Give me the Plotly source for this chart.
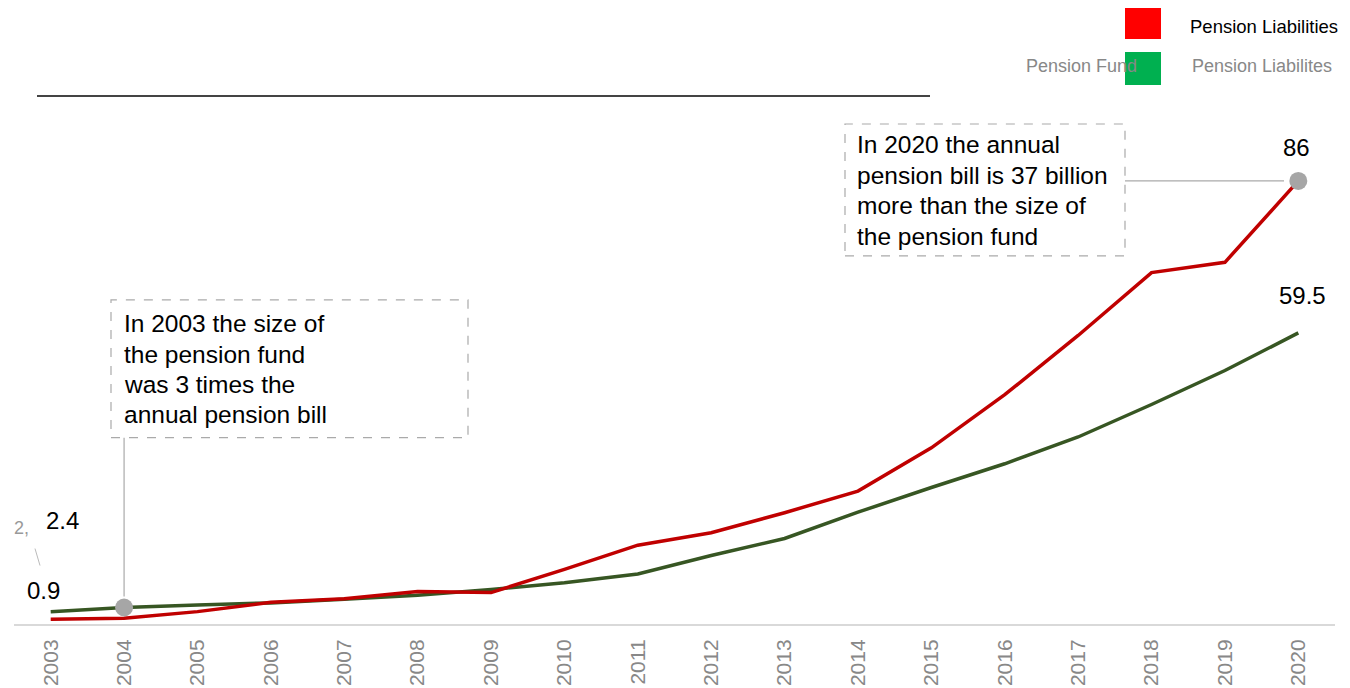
import plotly.graph_objects as go

# ---- data ----
years = list(range(2003, 2021))
year_labels = [str(y) for y in years]
pension_liabilities = [0.9, 1.1, 2.4, 4.2, 4.9, 6.3, 6.1, 10.6, 15.3, 17.7,
                       21.6, 25.8, 34.2, 44.5, 56.0, 68.2, 70.2, 86.0]
pension_fund = [2.4, 3.2, 3.7, 4.1, 4.8, 5.6, 6.7, 8.0, 9.7, 13.3,
                16.6, 21.7, 26.5, 31.1, 36.3, 42.6, 49.2, 56.5]
value_labels = {"liab_end": "86", "fund_end": "59.5", "fund_start": "2.4", "liab_start": "0.9"}
note_2003 = ["In 2003 the size of", "the pension fund", "was 3 times the", "annual pension bill"]
note_2020 = ["In 2020 the annual", "pension bill is 37 billion", "more than the size of", "the pension fund"]

# ---- layout geometry (page pixels; page body has 8px margin) ----
OFF = 8
W, H = 1350 - OFF, 688 - OFF
L, R, T, B = 14 - OFF, 15, 100 - OFF, 63.5
PW = W - L - R
PH = H - T - B


def px(x):
    return (x - OFF - L) / PW


def py(y):
    return (H - B - (y - OFF)) / PH


RED = "#c00000"
GREEN = "#375623"
GRAY_MK = "#a6a6a6"
FONT = "Liberation Sans, Arial, sans-serif"

fig = go.Figure()
fig.add_trace(go.Scatter(x=years, y=pension_fund, mode="lines",
                         line=dict(color=GREEN, width=3.5), name="Pension Fund",
                         showlegend=False, hoverinfo="skip"))
fig.add_trace(go.Scatter(x=years, y=pension_liabilities, mode="lines",
                         line=dict(color=RED, width=3.5), name="Pension Liabilities",
                         showlegend=False, hoverinfo="skip"))
fig.add_trace(go.Scatter(x=[years[1], years[-1]], y=[pension_fund[1], pension_liabilities[-1]],
                         mode="markers", marker=dict(color=GRAY_MK, size=18),
                         showlegend=False, hoverinfo="skip"))

shapes = []
# top rule
shapes.append(dict(type="line", xref="paper", yref="paper", x0=px(37), x1=px(930),
                   y0=py(96), y1=py(96), line=dict(color="#444444", width=2)))
# legend squares
shapes.append(dict(type="rect", xref="paper", yref="paper", x0=px(1125), x1=px(1161),
                   y0=py(39), y1=py(6), fillcolor="#ff0000", line=dict(width=0)))
shapes.append(dict(type="rect", xref="paper", yref="paper", x0=px(1125), x1=px(1161),
                   y0=py(85), y1=py(52), fillcolor="#00b050", line=dict(width=0)))
# annotation boxes
shapes.append(dict(type="rect", xref="paper", yref="paper", x0=px(111), x1=px(468),
                   y0=py(438), y1=py(300), line=dict(color="#aaaaaa", width=1.2, dash="dash")))
shapes.append(dict(type="rect", xref="paper", yref="paper", x0=px(845), x1=px(1125),
                   y0=py(256), y1=py(124), line=dict(color="#aaaaaa", width=1.2, dash="dash")))
# connectors
shapes.append(dict(type="line", xref="x", yref="paper", x0=years[1], x1=years[1],
                   y0=py(438), y1=py(597), line=dict(color="#aaaaaa", width=1.2)))
shapes.append(dict(type="line", xref="paper", yref="y", x0=px(1125), x1=px(1284),
                   y0=pension_liabilities[-1], y1=pension_liabilities[-1],
                   line=dict(color="#aaaaaa", width=1.2)))
# small leader line for clipped label
shapes.append(dict(type="line", xref="paper", yref="paper", x0=px(35), x1=px(40),
                   y0=py(549), y1=py(566), line=dict(color="#bbbbbb", width=1)))

ann = []
for i, line in enumerate(note_2003):
    ann.append(dict(text=line, xref="paper", yref="paper", x=px(122), y=py(324 + 30.4 * i),
                    xanchor="left", yanchor="middle", align="left", showarrow=False,
                    font=dict(family=FONT, size=24.5, color="#000000")))
for i, line in enumerate(note_2020):
    ann.append(dict(text=line, xref="paper", yref="paper", x=px(855), y=py(145 + 30.4 * i),
                    xanchor="left", yanchor="middle", align="left", showarrow=False,
                    font=dict(family=FONT, size=24.5, color="#000000")))
# value labels
for key, cx, cy in [("liab_end", 1296, 148), ("fund_end", 1302, 296),
                    ("fund_start", 62, 521), ("liab_start", 43, 591)]:
    ann.append(dict(text=value_labels[key], xref="paper", yref="paper", x=px(cx), y=py(cy),
                    xanchor="center", yanchor="middle", showarrow=False,
                    font=dict(family=FONT, size=24, color="#000000")))
ann.append(dict(text="2,", xref="paper", yref="paper", x=px(21), y=py(528),
                xanchor="center", yanchor="middle", showarrow=False,
                font=dict(family=FONT, size=18, color="#999999")))
# legend texts
ann.append(dict(text="Pension Liabilities", xref="paper", yref="paper", x=px(1340), y=py(26),
                xanchor="right", yanchor="middle", showarrow=False,
                font=dict(family=FONT, size=18.5, color="#000000")))
ann.append(dict(text="Pension Fund", xref="paper", yref="paper", x=px(1139), y=py(66),
                xanchor="right", yanchor="middle", showarrow=False,
                font=dict(family=FONT, size=18, color="#888888")))
ann.append(dict(text="Pension Liabilites", xref="paper", yref="paper", x=px(1334), y=py(66),
                xanchor="right", yanchor="middle", showarrow=False,
                font=dict(family=FONT, size=18, color="#888888")))

fig.update_layout(
    width=W, height=H,
    margin=dict(l=L, r=R, t=T, b=B, pad=0, autoexpand=False),
    paper_bgcolor="white", plot_bgcolor="white",
    shapes=shapes, annotations=ann,
    xaxis=dict(range=[2002.5, 2020.5], tickvals=years, ticktext=year_labels,
               tickangle=-90, showgrid=False, zeroline=False, showline=True,
               linecolor="#d9d9d9", linewidth=2, ticks="", ticklabelstandoff=5,
               automargin=False,
               tickfont=dict(family=FONT, size=21, color="#888888")),
    yaxis=dict(range=[0, PH / 5.157], visible=False, showgrid=False, zeroline=False,
               automargin=False),
)

fig.write_html("out.html")
